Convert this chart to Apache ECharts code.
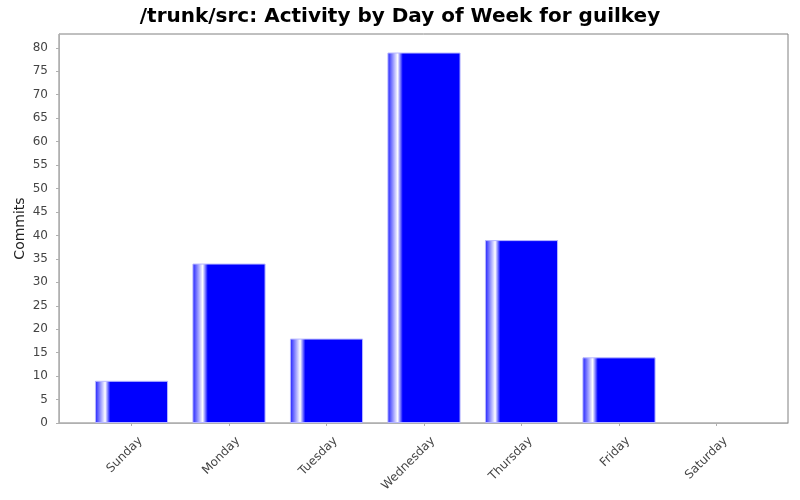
<!DOCTYPE html>
<html>
<head>
<meta charset="utf-8">
<script src="https://cdn.jsdelivr.net/npm/echarts@6/dist/echarts.min.js"></script>
<style>
  html, body { margin: 0; padding: 0; background: #fff; }
  #container { width: 800px; height: 500px; }
</style>
</head>
<body>
<div id="container"></div>
<script>
var days = ['Sunday', 'Monday', 'Tuesday', 'Wednesday', 'Thursday', 'Friday', 'Saturday'];
var commits = [9, 34, 18, 79, 39, 14, 0];
var yMax = 82.95;

var echartBar = echarts.init(document.getElementById('container'));

// JFreeChart style bar: blue with a white stripe near the left edge
var barColor = new echarts.graphic.LinearGradient(0, 0, 1, 0, [
  { offset: 0, color: '#1a1aff' },
  { offset: 0.14, color: '#ffffff' },
  { offset: 0.21, color: '#0000ff' },
  { offset: 1, color: '#0000ff' }
]);

// no outline on empty bars
var barData = commits.map(function(v){
  return { value: v, itemStyle: v === 0 ? { borderWidth: 0 } : {} };
});

var option = {
  animation: false,
  textStyle: { fontFamily: 'DejaVu Sans' },
  title: {
    text: '/trunk/src: Activity by Day of Week for guilkey',
    left: 'center',
    top: 2,
    textStyle: { fontSize: 20, fontWeight: 'bold', color: '#000', fontFamily: 'DejaVu Sans' }
  },
  grid: [
    // outer plot frame, full width
    { left: 59, right: 12, top: 34, bottom: 77, show: true, borderColor: '#808080', borderWidth: 1 },
    // category area, inset by the category margins
    { left: 82.75, right: 34.75, top: 34, bottom: 77 },
    // labels sit a little to the right of the ticks
    { left: 91.75, right: 25.75, top: 34, bottom: 77 }
  ],
  xAxis: [{
    gridIndex: 0,
    type: 'value',
    min: 0,
    max: 1,
    offset: 4,
    axisLine: { show: true, lineStyle: { color: '#b0b0b0' } },
    axisTick: { show: false },
    axisLabel: { show: false },
    splitLine: { show: false }
  }, {
    gridIndex: 1,
    type: 'category',
    data: days,
    offset: 4,
    axisLine: { show: false },
    axisTick: { show: true, alignWithLabel: true, length: 3, lineStyle: { color: '#b0b0b0' } },
    axisLabel: { show: false }
  }, {
    gridIndex: 2,
    type: 'category',
    data: days,
    offset: 4,
    axisLine: { show: false },
    axisTick: { show: false },
    axisLabel: { rotate: 45, color: '#444', fontSize: 12, margin: 12 }
  }],
  yAxis: [{
    gridIndex: 0,
    type: 'value',
    min: 0,
    max: yMax,
    interval: 5,
    offset: 4,
    name: 'Commits',
    nameLocation: 'middle',
    nameGap: 28,
    nameMoveOverlap: false,
    nameTextStyle: { color: '#222', fontSize: 14 },
    axisLine: { show: true, lineStyle: { color: '#b0b0b0' } },
    axisTick: { show: true, length: 3, lineStyle: { color: '#b0b0b0' } },
    axisLabel: { color: '#444', fontSize: 12, margin: 7, showMaxLabel: false },
    splitLine: { show: false }
  }, {
    gridIndex: 1,
    type: 'value',
    min: 0,
    max: yMax,
    show: false
  }, {
    gridIndex: 2,
    type: 'value',
    min: 0,
    max: yMax,
    show: false
  }],
  series: [{
    type: 'bar',
    xAxisIndex: 1,
    yAxisIndex: 1,
    data: barData,
    barWidth: '75%',
    itemStyle: {
      color: barColor,
      borderColor: '#b8b8ff',
      borderWidth: 1
    }
  }]
};
echartBar.setOption(option);
</script>
</body>
</html>
